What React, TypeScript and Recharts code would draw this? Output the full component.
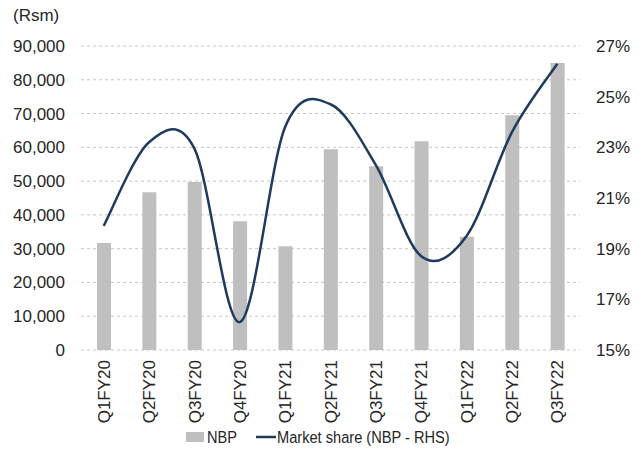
import React from 'react';
import {
  ComposedChart,
  Bar,
  Line,
  XAxis,
  YAxis,
  CartesianGrid,
  Legend,
} from 'recharts';

// Quarterly new business premium (Rsm) and market share (%)
const quarters = [
  'Q1FY20', 'Q2FY20', 'Q3FY20', 'Q4FY20', 'Q1FY21', 'Q2FY21',
  'Q3FY21', 'Q4FY21', 'Q1FY22', 'Q2FY22', 'Q3FY22',
];
const nbpValues = [31700, 46700, 49700, 38100, 30700, 59400, 54400, 61800, 33500, 69500, 85000];
const marketShare = [19.9, 23.2, 22.95, 16.1, 23.8, 24.7, 22.3, 18.7, 19.5, 23.6, 26.3];

const leftTicks = [0, 10000, 20000, 30000, 40000, 50000, 60000, 70000, 80000, 90000];
const rightTicks = [15, 17, 19, 21, 23, 25, 27];

const data = quarters.map((q, i) => ({
  quarter: q,
  nbp: nbpValues[i],
  share: marketShare[i],
}));

const FONT = '"Liberation Sans", Arial, sans-serif';
const TEXT = '#262626';
const BAR = '#BFBFBF';
const LINE = '#1F3A5C';

// Smooth curve in the spreadsheet style: cubic Bezier segments with
// Catmull-Rom control points (one sixth of the neighbour chord).
function smoothCurve(context: any) {
  let pts: [number, number][] = [];
  return {
    areaStart() {},
    areaEnd() {},
    lineStart() {
      pts = [];
    },
    point(x: number, y: number) {
      pts.push([+x, +y]);
    },
    lineEnd() {
      const n = pts.length;
      if (!n) return;
      context.moveTo(pts[0][0], pts[0][1]);
      for (let i = 0; i < n - 1; i++) {
        const p0 = pts[i - 1] ?? pts[i];
        const p1 = pts[i];
        const p2 = pts[i + 1];
        const p3 = pts[i + 2] ?? pts[i + 1];
        context.bezierCurveTo(
          p1[0] + (p2[0] - p0[0]) / 6,
          p1[1] + (p2[1] - p0[1]) / 6,
          p2[0] - (p3[0] - p1[0]) / 6,
          p2[1] - (p3[1] - p1[1]) / 6,
          p2[0],
          p2[1],
        );
      }
    },
  };
}

const QuarterTick = (props: any) => {
  const { x, y, payload } = props;
  return (
    <text
      x={0}
      y={0}
      dy="0.36em"
      transform={`translate(${x},${y}) rotate(-90)`}
      textAnchor="end"
      fill={TEXT}
      fontSize={17}
      fontFamily={FONT}
    >
      {payload.value}
    </text>
  );
};

// Legend labels are drawn horizontally condensed.
const LEGEND_SQUEEZE = 0.86;
let measureCtx: CanvasRenderingContext2D | null = null;
function measure(label: string): number {
  if (!measureCtx) {
    measureCtx = document.createElement('canvas').getContext('2d');
  }
  if (!measureCtx) return label.length * 8.5;
  measureCtx.font = `17px ${FONT}`;
  return measureCtx.measureText(label).width;
}

const LegendContent = (props: any) => {
  // bars first, then the line
  const items = [...(props.payload || [])].sort(
    (a: any, b: any) => (a.type === 'line' ? 1 : 0) - (b.type === 'line' ? 1 : 0),
  );
  return (
    <div
      style={{
        height: 24,
        display: 'flex',
        justifyContent: 'center',
        alignItems: 'center',
      }}
    >
      {items.map((item: any, i: number) => {
        const label = String(item.value);
        const tw = Math.ceil(measure(label) * LEGEND_SQUEEZE) + 2;
        const isLine = item.type === 'line';
        const markW = isLine ? 20 : 18;
        const gap = isLine ? 1 : 3;
        return (
          <svg
            key={label}
            width={markW + gap + tw}
            height={24}
            overflow="visible"
            style={{ marginRight: i < items.length - 1 ? 16 : 0, display: 'block' }}
          >
            {isLine ? (
              <line x1={0} y1={12} x2={markW} y2={12} stroke={item.color} strokeWidth={2.5} />
            ) : (
              <rect x={0} y={7} width={markW} height={10} fill={item.color} />
            )}
            <text
              transform={`translate(${markW + gap},12) scale(${LEGEND_SQUEEZE},1)`}
              x={0}
              y={0}
              dy="0.36em"
              fontFamily={FONT}
              fontSize={17}
              fill={TEXT}
            >
              {label}
            </text>
          </svg>
        );
      })}
    </div>
  );
};

export default function App() {
  return (
    <div style={{ position: 'absolute', left: 0, top: 0, width: 638, height: 451, background: '#fff' }}>
      <div
        style={{
          position: 'absolute',
          left: 13,
          top: 5,
          fontFamily: FONT,
          fontSize: 17,
          color: TEXT,
          lineHeight: '22px',
        }}
      >
        (Rsm)
      </div>
      <ComposedChart
        width={638}
        height={451}
        data={data}
        margin={{ top: 46, right: 0, bottom: 2, left: 0 }}
        barCategoryGap={0}
      >
        <CartesianGrid
          yAxisId="left"
          vertical={false}
          stroke="#C6C6C6"
          strokeDasharray="3 3"
        />
        <XAxis
          dataKey="quarter"
          height={75}
          axisLine={false}
          tickLine={false}
          interval={0}
          tickSize={0}
          tickMargin={10}
          tick={<QuarterTick />}
        />
        <YAxis
          yAxisId="left"
          orientation="left"
          width={81}
          domain={[0, 90000]}
          ticks={leftTicks}
          interval={0}
          axisLine={false}
          tickLine={false}
          tickSize={0}
          tickMargin={16}
          tickFormatter={(v: number) => v.toLocaleString('en-US')}
          tick={{ fill: TEXT, fontSize: 17, fontFamily: FONT }}
        />
        <YAxis
          yAxisId="right"
          orientation="right"
          width={58}
          domain={[15, 27]}
          ticks={rightTicks}
          interval={0}
          axisLine={false}
          tickLine={false}
          tickSize={0}
          tickMargin={16}
          tickFormatter={(v: number) => `${v}%`}
          tick={{ fill: TEXT, fontSize: 17, fontFamily: FONT }}
        />
        <Bar
          yAxisId="left"
          dataKey="nbp"
          name="NBP"
          fill={BAR}
          barSize={14}
          isAnimationActive={false}
          legendType="rect"
        />
        <Line
          yAxisId="right"
          dataKey="share"
          name="Market share (NBP - RHS)"
          type={smoothCurve as any}
          stroke={LINE}
          strokeWidth={2.5}
          dot={false}
          activeDot={false}
          isAnimationActive={false}
          legendType="line"
        />
        <Legend verticalAlign="bottom" align="center" content={<LegendContent />} />
      </ComposedChart>
    </div>
  );
}
